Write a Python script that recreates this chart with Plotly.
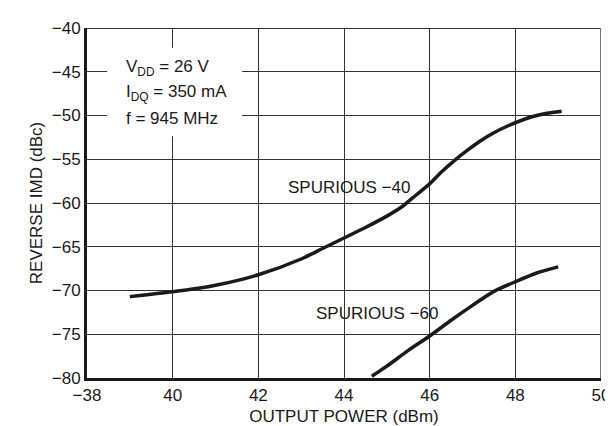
import plotly.graph_objects as go

# Data
spur40_x = [39.0, 40.0, 41.0, 42.0, 43.0, 43.5, 44.0, 44.5, 45.0, 45.36, 45.67, 45.98, 46.28, 46.59,
            46.90, 47.20, 47.51, 47.82, 48.12, 48.43, 48.74, 49.08]
spur40_y = [-70.7, -70.15, -69.4, -68.2, -66.4, -65.2, -64.0, -62.8, -61.5, -60.4, -59.14, -57.90,
            -56.44, -55.09, -53.90, -52.85, -51.94, -51.20, -50.60, -50.08, -49.74, -49.51]

spur60_x = [44.65, 45.0, 45.5, 46.0, 46.5, 47.0, 47.5, 48.0, 48.5, 49.0]
spur60_y = [-79.8, -78.65, -76.85, -75.2, -73.4, -71.7, -70.1, -69.0, -68.0, -67.3]

x_tickvals = [38, 40, 42, 44, 46, 48, 50]
x_ticktext = ["\u221238", "40", "42", "44", "46", "48", "50"]
y_tickvals = [-40, -45, -50, -55, -60, -65, -70, -75, -80]
y_ticktext = ["\u221240", "\u221245", "\u221250", "\u221255", "\u221260", "\u221265", "\u221270", "\u221275", "\u221280"]

cond_lines = ["V<sub>DD</sub> = 26 V", "I<sub>DQ</sub> = 350 mA", "f = 945 MHz"]
cond_y = [-44.61, -47.47, -50.39]

FONT = "Liberation Sans, Arial, Helvetica, sans-serif"
INK = "#1a1a1a"
FS = 17

fig = go.Figure()
fig.add_trace(go.Scatter(x=spur40_x, y=spur40_y, mode="lines",
                         line=dict(color=INK, width=3.5, shape="spline", smoothing=0.7),
                         showlegend=False, hoverinfo="skip"))
fig.add_trace(go.Scatter(x=spur60_x, y=spur60_y, mode="lines",
                         line=dict(color=INK, width=3.5, shape="spline", smoothing=0.7),
                         showlegend=False, hoverinfo="skip"))

# white box behind the condition text (hides gridlines)
fig.add_shape(type="rect", xref="x", yref="y", x0=38.47, x1=41.62, y0=-52.36, y1=-42.25,
              fillcolor="white", line=dict(width=0), layer="between")
# top and right frame lines
fig.add_shape(type="line", xref="x", yref="y", x0=38, x1=50, y0=-40, y1=-40,
              line=dict(color="#333333", width=2), layer="above")
fig.add_shape(type="line", xref="x", yref="y", x0=50, x1=50, y0=-80, y1=-40,
              line=dict(color="#777777", width=2), layer="above")

for txt, yy in zip(cond_lines, cond_y):
    fig.add_annotation(x=38.86, y=yy, xref="x", yref="y", xanchor="left", yanchor="middle",
                       align="left", showarrow=False, text=txt,
                       font=dict(family=FONT, size=FS, color=INK))
fig.add_annotation(x=44.11, y=-58.28, xref="x", yref="y", showarrow=False,
                   text="SPURIOUS \u221240", font=dict(family=FONT, size=FS, color=INK))
fig.add_annotation(x=44.77, y=-72.6, xref="x", yref="y", showarrow=False,
                   text="SPURIOUS \u221260", font=dict(family=FONT, size=FS, color=INK))

fig.update_xaxes(range=[38, 50], tickvals=x_tickvals, ticktext=x_ticktext,
                 showgrid=True, gridcolor="#333333", gridwidth=1.3,
                 showline=True, linecolor=INK, linewidth=3, ticks="", zeroline=False,
                 tickfont=dict(family=FONT, size=FS, color=INK),
                 title=dict(text="OUTPUT POWER (dBm)", font=dict(family=FONT, size=FS, color=INK), standoff=6))
fig.update_yaxes(range=[-80, -40], tickvals=y_tickvals, ticktext=y_ticktext,
                 showgrid=True, gridcolor="#333333", gridwidth=1.3,
                 showline=True, linecolor=INK, linewidth=3, ticks="", zeroline=False,
                 tickfont=dict(family=FONT, size=FS, color=INK),
                 title=dict(text="REVERSE IMD (dBc)", font=dict(family=FONT, size=FS, color=INK), standoff=5))

fig.update_layout(width=613, height=426, margin=dict(l=79, r=11, t=18, b=52),
                  paper_bgcolor="white", plot_bgcolor="white", showlegend=False)

fig.write_html("out.html")
